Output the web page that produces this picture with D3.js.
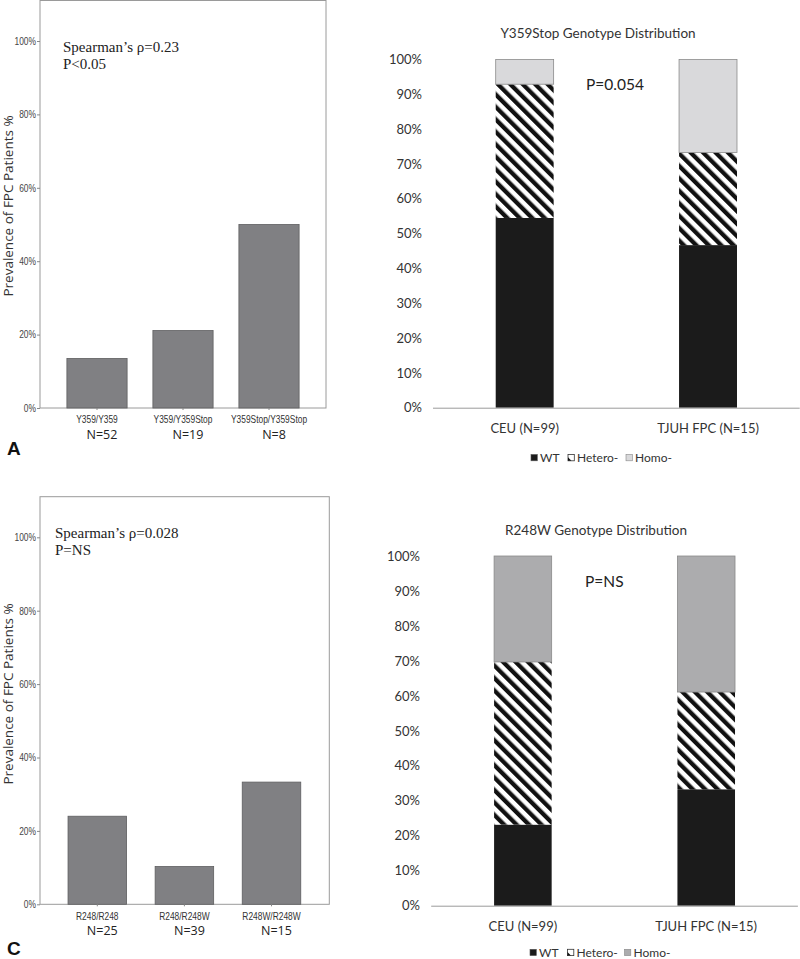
<!DOCTYPE html>
<html>
<head>
<meta charset="utf-8">
<script src="https://cdn.jsdelivr.net/npm/d3@7"></script>
<style>
  html, body { margin: 0; padding: 0; background: #fff; }
  svg { display: block; }
</style>
</head>
<body>
<svg id="chart" width="800" height="959"></svg>
<script>
// ---------- DATA ----------
const genotypesA = ["Y359/Y359", "Y359/Y359Stop", "Y359Stop/Y359Stop"];
const countsA = ["N=52", "N=19", "N=8"];
const prevalenceA = [13.5, 21.1, 50.0];
const statsA = ["Spearman\u2019s \u03c1=0.23", "P<0.05"];

const genotypesC = ["R248/R248", "R248/R248W", "R248W/R248W"];
const countsC = ["N=25", "N=39", "N=15"];
const prevalenceC = [24.0, 10.3, 33.3];
const statsC = ["Spearman\u2019s \u03c1=0.028", "P=NS"];

const yTicksAC = [0, 20, 40, 60, 80, 100];
const yTitleAC = "Prevalence of FPC Patients %";

const groups = ["CEU (N=99)", "TJUH FPC (N=15)"];
const genotypeKeys = ["WT", "Hetero-", "Homo-"];
const wtB = [54.5, 46.7];
const hetB = [38.4, 26.6];
const homoB = [7.1, 26.7];
const wtD = [23.2, 33.3];
const hetD = [46.5, 27.8];
const homoD = [30.3, 38.9];
const yTicksBD = [0, 10, 20, 30, 40, 50, 60, 70, 80, 90, 100];
const titleB = "Y359Stop Genotype Distribution";
const titleD = "R248W Genotype Distribution";
const pB = "P=0.054";
const pD = "P=NS";

// ---------- DRAWING ----------
const svg = d3.select("#chart");
const NARROW = "'Liberation Sans', Arial, sans-serif";
const SANS = "'Open Sans', 'DejaVu Sans', sans-serif";
const CAL = "Lato, 'Open Sans', sans-serif";
const SERIF = "'Liberation Serif', 'Times New Roman', serif";

// condense a text selection horizontally (emulates Arial Narrow)
function narrow(sel, f) {
  sel.each(function () {
    const len = this.getComputedTextLength();
    d3.select(this).attr("textLength", len * f).attr("lengthAdjust", "spacingAndGlyphs");
  });
}

const defs = svg.append("defs");
const pat = defs.append("pattern")
  .attr("id", "hatch")
  .attr("patternUnits", "userSpaceOnUse")
  .attr("width", 8.8).attr("height", 8.8)
  .attr("patternTransform", "rotate(-45)");
pat.append("rect").attr("width", 8.8).attr("height", 8.8).attr("fill", "#fff");
pat.append("rect").attr("x", 0).attr("width", 4.3).attr("height", 8.8).attr("fill", "#111");

function barPanel(cfg) {
  const g = svg.append("g");
  const y = d3.scaleLinear().domain([0, 100]).range([cfg.y0, cfg.y100]);
  const x = d3.scaleBand().domain(cfg.cats).range(cfg.xr)
    .paddingInner(cfg.pad).paddingOuter(cfg.pad / 2);

  // frame
  g.append("rect")
    .attr("x", cfg.fx0).attr("y", cfg.fy0)
    .attr("width", cfg.fx1 - cfg.fx0).attr("height", cfg.y0 - cfg.fy0)
    .attr("fill", "none").attr("stroke", "#9a9a9a").attr("stroke-width", 1);

  // y axis
  const ya = g.append("g").attr("transform", `translate(${cfg.fx0},0)`)
    .call(d3.axisLeft(y).tickValues(cfg.ticks).tickFormat(d => d + "%").tickSize(3).tickPadding(1));
  ya.select(".domain").remove();
  ya.selectAll("line").attr("stroke", "#888");
  ya.selectAll("text").attr("font-family", NARROW).attr("font-size", 10.5).attr("fill", "#444")
    .call(narrow, 0.8);

  // bars
  g.selectAll("rect.bar").data(cfg.vals).join("rect").attr("class", "bar")
    .attr("x", (d, i) => x(cfg.cats[i]))
    .attr("width", x.bandwidth())
    .attr("y", d => y(d))
    .attr("height", d => y(0) - y(d))
    .attr("fill", "#808083").attr("stroke", "#5e5e60").attr("stroke-width", 0.8);

  // x axis
  const xa = g.append("g").attr("transform", `translate(0,${cfg.y0})`)
    .call(d3.axisBottom(x).tickSize(2).tickPadding(6));
  xa.select(".domain").remove();
  xa.selectAll("line").attr("stroke", "#888");
  xa.selectAll("text").attr("font-family", NARROW).attr("font-size", 10.5).attr("fill", "#333")
    .call(narrow, 0.8);

  // N labels
  g.selectAll("text.n").data(cfg.counts).join("text").attr("class", "n")
    .attr("x", (d, i) => x(cfg.cats[i]) + x.bandwidth() / 2 + 5)
    .attr("y", cfg.y0 + 31)
    .attr("text-anchor", "middle")
    .attr("font-family", SANS).attr("font-size", 12.5).attr("fill", "#222")
    .text(d => d);

  // y title
  g.append("text")
    .attr("transform", `translate(13,${cfg.titleY}) rotate(-90)`)
    .attr("text-anchor", "middle")
    .attr("font-family", SANS).attr("font-size", 13.5).attr("fill", "#333")
    .text(yTitleAC);

  // stats
  g.selectAll("text.st").data(cfg.stats).join("text").attr("class", "st")
    .attr("x", cfg.sx).attr("y", (d, i) => cfg.sy + i * 17)
    .attr("font-family", SERIF).attr("font-size", 15).attr("fill", "#222")
    .text(d => d);

  // panel letter
  g.append("text").attr("x", 7).attr("y", cfg.letterY)
    .attr("font-family", "'Liberation Sans', Arial, sans-serif").attr("font-weight", "bold")
    .attr("font-size", 19).attr("fill", "#111").text(cfg.letter);
}

function stackPanel(cfg) {
  const g = svg.append("g");
  const y = d3.scaleLinear().domain([0, 100]).range([cfg.y0, cfg.y100]);
  const x = d3.scaleBand().domain(groups).range(cfg.xr)
    .paddingInner(cfg.pad).paddingOuter(cfg.pad / 2);

  const rows = groups.map((grp, i) => ({ group: grp, "WT": cfg.wt[i], "Hetero-": cfg.het[i], "Homo-": cfg.homo[i] }));
  const series = d3.stack().keys(genotypeKeys)(rows);
  const fills = { "WT": "#1b1b1b", "Hetero-": "url(#hatch)", "Homo-": cfg.homoColor };

  // title
  g.append("text").attr("x", cfg.titleX).attr("y", cfg.titleY)
    .attr("text-anchor", "middle").attr("font-family", CAL).attr("font-size", 13.5)
    .attr("fill", "#333").text(cfg.title);

  // y axis labels
  const ya = g.append("g").attr("transform", `translate(${cfg.yLabelX},0)`)
    .call(d3.axisLeft(y).tickValues(yTicksBD).tickFormat(d => d + "%").tickSize(0).tickPadding(0));
  ya.select(".domain").remove();
  ya.selectAll("text").attr("font-family", CAL).attr("font-size", 13).attr("fill", "#333");

  // bars
  series.forEach(s => {
    g.selectAll(null).data(s).join("rect")
      .attr("x", d => x(d.data.group))
      .attr("width", x.bandwidth())
      .attr("y", d => y(d[1]))
      .attr("height", d => y(d[0]) - y(d[1]))
      .attr("fill", fills[s.key])
      .attr("stroke", s.key === "Homo-" ? "#8a8a8a" : "none")
      .attr("stroke-width", 0.8);
  });

  // x axis
  const xa = g.append("g").attr("transform", `translate(0,${cfg.y0})`)
    .call(d3.axisBottom(x).tickSize(0).tickPadding(16));
  xa.select(".domain").attr("stroke", "#9a9a9a").attr("d", `M${cfg.xr[0]},0.5H${cfg.xr[1]}`);
  xa.selectAll("text").attr("font-family", CAL).attr("font-size", 13).attr("fill", "#333");

  // P value
  g.append("text").attr("x", cfg.px).attr("y", cfg.py)
    .attr("font-family", CAL).attr("font-size", 15.5).attr("fill", "#222").text(cfg.p);

  // legend
  const lg = g.append("g").attr("transform", `translate(0,${cfg.legY})`);
  const legX = cfg.legX;
  genotypeKeys.forEach((k, i) => {
    const sx = legX[i];
    if (k === "WT") {
      lg.append("rect").attr("x", sx).attr("y", -3.2).attr("width", 6.3).attr("height", 6.3)
        .attr("fill", "#1b1b1b").attr("stroke", "#555").attr("stroke-width", 0.6);
    } else if (k === "Hetero-") {
      lg.append("rect").attr("x", sx).attr("y", -3.2).attr("width", 6.3).attr("height", 6.3)
        .attr("fill", "#fff").attr("stroke", "#333").attr("stroke-width", 0.8);
      lg.append("path").attr("d", `M${sx},${-0.5}L${sx + 3.4},${3.1}H${sx}Z`).attr("fill", "#111");
    } else {
      lg.append("rect").attr("x", sx).attr("y", -3.2).attr("width", 6.3).attr("height", 6.3)
        .attr("fill", cfg.homoColor).attr("stroke", "#888").attr("stroke-width", 0.6);
    }
    lg.append("text").attr("x", sx + 9).attr("y", 4.3)
      .attr("font-family", CAL).attr("font-size", 12).attr("fill", "#333").text(k);
  });
}

barPanel({ cats: genotypesA, vals: prevalenceA, counts: countsA, stats: statsA, ticks: yTicksAC,
  y0: 408, y100: 41, fx0: 40, fx1: 326, fy0: 0.5, xr: [54, 312], pad: 0.3,
  titleY: 206, sx: 63, sy: 52, letter: "A", letterY: 455 });

barPanel({ cats: genotypesC, vals: prevalenceC, counts: countsC, stats: statsC, ticks: yTicksAC,
  y0: 904.3, y100: 537.3, fx0: 40, fx1: 329.3, fy0: 496.7, xr: [53.75, 315.05], pad: 0.328,
  titleY: 694, sx: 55, sy: 537.7, letter: "C", letterY: 955 });

stackPanel({ wt: wtB, het: hetB, homo: homoB, homoColor: "#d9d9db", title: titleB,
  titleX: 598, titleY: 37.5, y0: 407.7, y100: 59.5, xr: [433, 799.7], pad: 0.684,
  yLabelX: 422, px: 586, py: 89.5, p: pB, legY: 457.7, legX: [531, 568, 626] });

stackPanel({ wt: wtD, het: hetD, homo: homoD, homoColor: "#acacae", title: titleD,
  titleX: 596, titleY: 534.5, y0: 905.7, y100: 556, xr: [431.2, 797.9], pad: 0.686,
  yLabelX: 420, px: 585, py: 587, p: pD, legY: 952.5, legX: [530, 567.5, 624.5] });
</script>
</body>
</html>
